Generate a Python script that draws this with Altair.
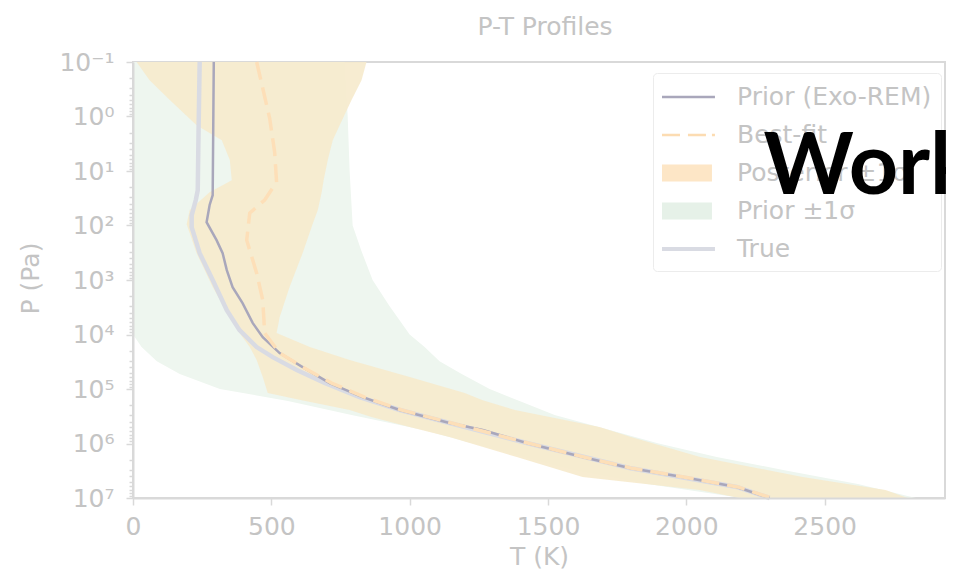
import altair as alt
import pandas as pd

# ---------------- data (T in K, P in Pa) ----------------
# Posterior ±1σ band
post_P = [0.1, 0.217, 0.50, 1.45, 2.73, 6.3, 14.8, 24.5, 52, 95, 322, 1350, 4800, 9400,
          17000, 29500, 60400, 1.19e5, 1.6e5, 2.43e5, 3.27e5, 5.0e5, 7.6e5, 1.77e6,
          4.11e6, 7.1e6, 1e7]
post_lo = [13, 60, 133, 230, 321, 350, 357, 277, 205, 194, 230, 288, 350, 385,
           422, 447, 469, 487, 610, 783, 862, 1000, 1144, 1387,
           1625, 2048, 2193]
post_hi = [844, 826, 790, 747, 722, 704, 689, 682, 668, 649, 613, 566, 530, 519,
           639, 783, 1000, 1199, 1264, 1380, 1506, 1686, 1800, 2050,
           2420, 2720, 2800]

# Prior ±1σ band
pband_P = [0.1, 1, 10, 100, 296, 1000, 3010, 1e4, 17000, 30800, 53200, 1e5, 1.66e5,
           3.0e5, 5.66e5, 1e6, 1.77e6, 3.06e6, 5.53e6, 1e7]
pband_lo = [0, 0, 0, 0, 0, 0, 0, 0, 31, 86, 169, 314, 560,
            790, 1050, 1230, 1410, 1590, 1860, 2200]
pband_hi = [765, 776, 783, 794, 826, 866, 927, 1000, 1054, 1108, 1188, 1289, 1397,
            1524, 1723, 1900, 2110, 2350, 2620, 2830]

# Prior (Exo-REM) profile
prior_P = [0.1, 27.8, 42, 87, 186, 322, 660, 1350, 2650, 6180, 11200, 21900, 39600,
           77800, 1.41e5, 2.43e5, 4.2e5, 5.66e5, 9.8e5, 1.77e6, 2.81e6, 4.11e6, 6.27e6, 1e7]
prior_T = [292, 288, 277, 266, 302, 324, 339, 360, 396, 433, 469, 530, 613,
           711, 830, 964, 1144, 1264, 1423, 1625, 1795, 1986, 2182, 2301]

# Best-fit profile
best_P = [0.1, 0.303, 1.08, 4.5, 16, 34, 59, 186, 748, 2340, 9400, 21900, 39600,
          77800, 1.41e5, 2.43e5, 4.2e5, 9.8e5, 1.77e6, 2.81e6, 4.11e6, 6.27e6, 1e7]
best_T = [447, 469, 494, 512, 519, 476, 422, 411, 447, 469, 476, 530, 613,
          718, 837, 971, 1151, 1427, 1629, 1799, 1990, 2186, 2308]

# True profile
true_P = [0.1, 1.79, 22.5, 34, 65, 107, 322, 1000, 3570, 8300, 17000, 26000, 45000,
          77800, 1.41e5, 2.43e5, 4.2e5, 9.8e5, 2.81e6, 6.27e6, 1e7]
true_T = [241, 237, 234, 227, 212, 212, 241, 288, 339, 385, 447, 505, 592,
          693, 819, 964, 1144, 1423, 1795, 2182, 2301]

legend_labels = ["Prior (Exo-REM)", "Best-fit", "Posterior ±1σ", "Prior ±1σ", "True"]
x_ticks = [0, 500, 1000, 1500, 2000, 2500]
y_ticks = [0.1, 1, 10, 100, 1e3, 1e4, 1e5, 1e6, 1e7]
y_tick_labels = ["10⁻¹", "10⁰", "10¹", "10²", "10³", "10⁴", "10⁵", "10⁶", "10⁷"]
y_minor = [m * 10.0 ** e for e in range(-1, 7) for m in range(2, 10)]
chart_title = ["P-T Profiles"]
overlay_text = "Work"

# ---------------- styling ----------------
FONT = "DejaVu Sans"
FS = 25
GREY = "#c4c4c4"
SPINE = "#d9d9d9"
C_PRIOR = "#a9a7bb"
C_BEST = "#fddfb8"
C_POST = "#f6eacd"
C_PBAND = "#eef6ef"
C_TRUE = "#d9dbe3"

legend_colors = [C_PRIOR, "#fcdcb2", "#fde6c6", "#e6f1e8", C_TRUE]
legend_paths = [
    "M-1,-0.09H2.53V0.09H-1Z",
    "M-1,-0.09H0.2V0.09H-1Z M0.73,-0.09H1.93V0.09H0.73Z M2.33,-0.09H2.53V0.09H2.33Z",
    "M-1,-0.57H2.33V0.57H-1Z",
    "M-1,-0.57H2.33V0.57H-1Z",
    "M-1,-0.14H2.53V0.14H-1Z",
]

xs = alt.Scale(domain=[0, 2935], nice=False, zero=False)
ys = alt.Scale(type="log", domain=[0.1, 1e7], reverse=True, nice=False)

is_major = "abs(log(datum.value)/LN10 - round(log(datum.value)/LN10)) < 0.001"
label_arr = "[" + ",".join("'" + s + "'" for s in y_tick_labels) + "]"

x_axis = alt.Axis(
    orient="bottom", values=x_ticks, format="d", labelFont=FONT, labelFontSize=FS,
    labelColor=GREY, labelPadding=9, tickSize=7, tickColor=SPINE, tickWidth=1.5,
    domainColor=SPINE, domainWidth=2, grid=False, title="T (K)", titleFont=FONT,
    titleFontSize=FS, titleColor=GREY, titleFontWeight="normal", titleY=58,
    titleBaseline="middle", zindex=1, labelFlush=False)

y_axis = alt.Axis(
    values=y_ticks + y_minor,
    labelExpr=is_major + " ? " + label_arr + "[round(log(datum.value)/LN10)+1] : ''",
    labelOverlap=False, labelFont=FONT, labelFontSize=FS, labelColor=GREY,
    labelPadding=12,
    tickSize={"condition": {"test": is_major, "value": 7}, "value": 4},
    tickColor=SPINE, tickWidth=1.5, domainColor=SPINE, domainWidth=2, grid=False,
    title="P (Pa)", titleFont=FONT, titleFontSize=FS, titleColor=GREY,
    titleFontWeight="normal", titleX=-103, titleY=216, titleAngle=270,
    titleAlign="center", titleBaseline="middle", zindex=1, labelFlush=False)

# top axis only carries the black overlay word, drawn above the legend
top_axis = alt.Axis(
    orient="top", title=overlay_text, domain=False, ticks=False, labels=False,
    grid=False, titleX=630, titleY=131, titleFont="Lato", titleFontSize=86,
    titleFontWeight="bold", titleColor="black", titleAlign="left",
    titleBaseline="alphabetic", titleAngle=0, zindex=2)


def band(P, lo, hi, color, op, axis):
    df = pd.DataFrame({"P": P, "lo": lo, "hi": hi})
    return alt.Chart(df).mark_area(orient="horizontal", color=color, opacity=op).encode(
        y=alt.Y("P:Q", scale=ys, axis=y_axis),
        x=alt.X("lo:Q", scale=xs, axis=axis),
        x2="hi:Q",
    )


def line(P, T, color, width, dash=None):
    df = pd.DataFrame({"P": P, "T": T, "i": list(range(len(P)))})
    kw = dict(color=color, strokeWidth=width)
    if dash:
        kw["strokeDash"] = dash
    return alt.Chart(df).mark_line(**kw).encode(
        y=alt.Y("P:Q", scale=ys, axis=y_axis),
        x=alt.X("T:Q", scale=xs, axis=None),
        order="i:Q",
    )


leg = alt.Legend(
    title=None, orient="none", legendX=520, legendY=11, padding=9,
    fillColor="white", strokeColor="#ececec", cornerRadius=4,
    labelFont=FONT, labelFontSize=FS, labelColor=GREY, labelOffset=45,
    labelLimit=400, rowPadding=10, symbolSize=900, symbolStrokeWidth=0,
    symbolOpacity=1, zindex=0)

leg_df = pd.DataFrame({"series": legend_labels, "T": [None] * 5, "P": [None] * 5})
legend_layer = alt.Chart(leg_df).mark_point(filled=True, size=900, opacity=1).encode(
    y=alt.Y("P:Q", scale=ys, axis=y_axis),
    x=alt.X("T:Q", scale=xs, axis=top_axis),
    color=alt.Color("series:N", scale=alt.Scale(domain=legend_labels, range=legend_colors), legend=leg),
    shape=alt.Shape("series:N", scale=alt.Scale(domain=legend_labels, range=legend_paths), legend=leg),
)

title_layer = alt.Chart(pd.DataFrame({"t": chart_title})).mark_text(
    font=FONT, fontSize=FS, color=GREY, align="center", baseline="alphabetic").encode(
    x=alt.value(412), y=alt.value(-27), text="t:N")

chart = alt.layer(
    band(pband_P, pband_lo, pband_hi, C_PBAND, 1.0, x_axis),
    band(post_P, post_lo, post_hi, C_POST, 0.92, None),
    line(true_P, true_T, C_TRUE, 4.5),
    line(prior_P, prior_T, C_PRIOR, 2.5),
    line(best_P, best_T, C_BEST, 3.5, [18, 8]),
    legend_layer,
    title_layer,
).resolve_axis(x="independent").properties(
    width=812, height=436,
    autosize=alt.AutoSizeParams(type="none"),
    padding={"left": 125, "top": 54, "right": 1, "bottom": 73},
).configure_view(stroke=SPINE, strokeWidth=2)

chart.save("out.html", embed_options={"renderer": "svg", "actions": False})
